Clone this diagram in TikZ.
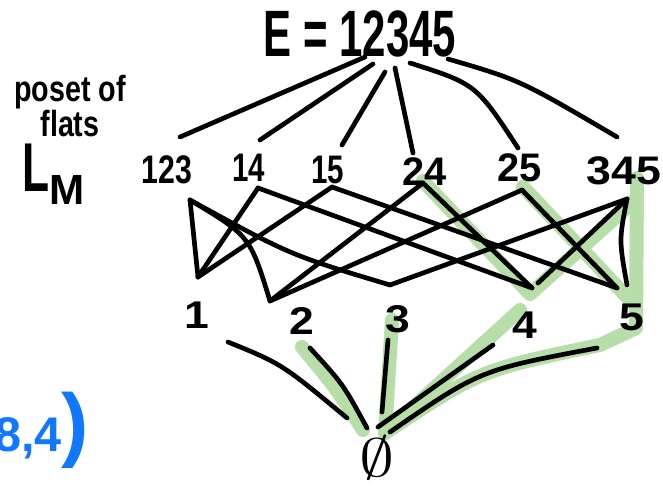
\documentclass[tikz,border=0pt]{standalone}
\usepackage{fontspec}
\setmainfont{Liberation Sans}
\usepackage{graphicx}
\definecolor{hl}{RGB}{183,222,168}
\definecolor{bluepen}{RGB}{17,119,255}
\begin{document}
\begin{tikzpicture}[x=0.03cm,y=-0.03cm,
  ink/.style={line width=4pt, line cap=round, line join=round},
  glow/.style={line width=12pt, line cap=round, line join=round, draw=hl},
  lbl/.style={inner sep=0pt, font=\fontsize{34}{34}\selectfont\bfseries},
  atom/.style={inner sep=0pt, font=\fontsize{33}{33}\selectfont\bfseries, xscale=1.15},
  side/.style={inner sep=0pt, anchor=base, font=\fontsize{31}{31}\selectfont\bfseries},
]
\useasboundingbox (0,0) rectangle (663,489);

% connection points
\coordinate (eA) at (365,57);  \coordinate (eB) at (373,64);
\coordinate (eC) at (385,72);  \coordinate (eD) at (395,68);
\coordinate (eE) at (410,63);  \coordinate (eF) at (448,59);
\coordinate (u123) at (180,137); \coordinate (u14) at (260,140);
\coordinate (u15) at (342,145);  \coordinate (u24) at (413,153);
\coordinate (u25) at (518,148);  \coordinate (u345) at (617,137);
\coordinate (d123) at (190,200); \coordinate (d14) at (258,188);
\coordinate (d15) at (332,187);  \coordinate (d24) at (423,183);
\coordinate (d25) at (522,190);  \coordinate (d345) at (627,199);
\coordinate (u1) at (198,277); \coordinate (u2) at (270,301);
\coordinate (u3) at (390,285); \coordinate (u4) at (532,288);
\coordinate (u4b) at (538,283); \coordinate (u5) at (617,288);
\coordinate (u5b) at (627,285);
\coordinate (d1) at (228,342); \coordinate (d2) at (310,348);
\coordinate (d3) at (388,340); \coordinate (d4) at (493,345);
\coordinate (d5) at (597,348);
\coordinate (z1) at (347,418); \coordinate (z2) at (367,428);
\coordinate (z3) at (382,412); \coordinate (z4) at (378,427);
\coordinate (z5) at (390,432);
% highlight points
\coordinate (g24) at (423,181); \coordinate (g4) at (530,294);
\coordinate (g345) at (635,200); \coordinate (g25) at (523,187);
\coordinate (g5) at (627,297); \coordinate (g345t) at (637,178);
\coordinate (g5r) at (636,328); \coordinate (g5l) at (600,345);
\coordinate (gz) at (385,433); \coordinate (g3) at (392,320);
\coordinate (g4l) at (520,310); \coordinate (g2) at (302,347);
\coordinate (gz2) at (363,430);

% green highlights
\draw[glow] (g24) -- (g4) -- (g345);
\draw[glow] (g25) -- (g5);
\draw[glow] (g345t) -- (g5r) -- (g5l) .. controls (480,370) .. (gz);
\draw[glow] (gz) -- (g3);
\draw[glow] (gz) -- (g4l);
\draw[glow] (g2) .. controls (336,388) .. (gz2);

% labels
\node[inner sep=0pt, font=\fontsize{56}{56}\selectfont\bfseries, xscale=0.64] (E) at (360,34) {E = 12345};
\node[lbl, xscale=0.76] (n123) at (167,170) {123};
\node[lbl, xscale=0.74] (n14) at (249,168) {14};
\node[lbl, xscale=0.74] (n15) at (328,170) {15};
\node[lbl, xscale=1.0] (n24) at (425,172) {24};
\node[lbl, xscale=1.0] (n25) at (520,168) {25};
\node[lbl, xscale=1.12] (n345) at (624,171) {345};
\node[atom] (a1) at (197,315) {1};
\node[atom] (a2) at (302,321) {2};
\node[atom] (a3) at (398,319) {3};
\node[atom] (a4) at (525,325) {4};
\node[atom] (a5) at (632,317) {5};
\node[inner sep=0pt] (z) at (377,458) {\scalebox{6}[4.6]{$\emptyset$}};
\node[side, xscale=0.79] (t1) at (70,102) {poset of};
\node[side, xscale=0.79] (t2) at (70,137) {flats};
\node[inner sep=0pt, anchor=base west, font=\fontsize{59}{59}\selectfont\bfseries] (lm) at (22,192)
  {\scalebox{0.64}[1]{L}\raisebox{-11pt}{\fontsize{36}{36}\selectfont M}};
\node[inner sep=0pt, anchor=base west, text=bluepen, font=\fontsize{41.5}{41.5}\selectfont\bfseries] (blue) at (-6,452)
  {8,4{\fontsize{70}{70}\selectfont)}};

% top edges
\draw[ink] (eA) -- (u123);
\draw[ink] (eB) -- (u14);
\draw[ink] (eC) -- (u15);
\draw[ink] (eD) -- (u24);
\draw[ink] (eE) .. controls (476,84) .. (u25);
\draw[ink] (eF) .. controls (520,80) .. (u345);

% middle edges
\draw[ink] (d123) -- (u1);
\draw[ink] (d123) .. controls (250,236) .. (u2);
\draw[ink] (d123) .. controls (290,255) .. (u3);
\draw[ink] (d14) -- (u1);
\draw[ink] (d14) -- (u4);
\draw[ink] (d15) -- (u1);
\draw[ink] (d15) -- (u5);
\draw[ink] (d24) -- (u2);
\draw[ink] (d24) -- (u4);
\draw[ink] (d25) -- (u2);
\draw[ink] (d25) -- (u5);
\draw[ink] (d345) -- (u3);
\draw[ink] (d345) -- (u4b);
\draw[ink] (d345) .. controls (619,240) .. (u5b);

% bottom edges
\draw[ink] (d1) .. controls (282,364) .. (z1);
\draw[ink] (d2) .. controls (343,384) .. (z2);
\draw[ink] (d3) -- (z3);
\draw[ink] (d4) -- (z4);
\draw[ink] (d5) .. controls (480,370) .. (z5);
\end{tikzpicture}
\end{document}
